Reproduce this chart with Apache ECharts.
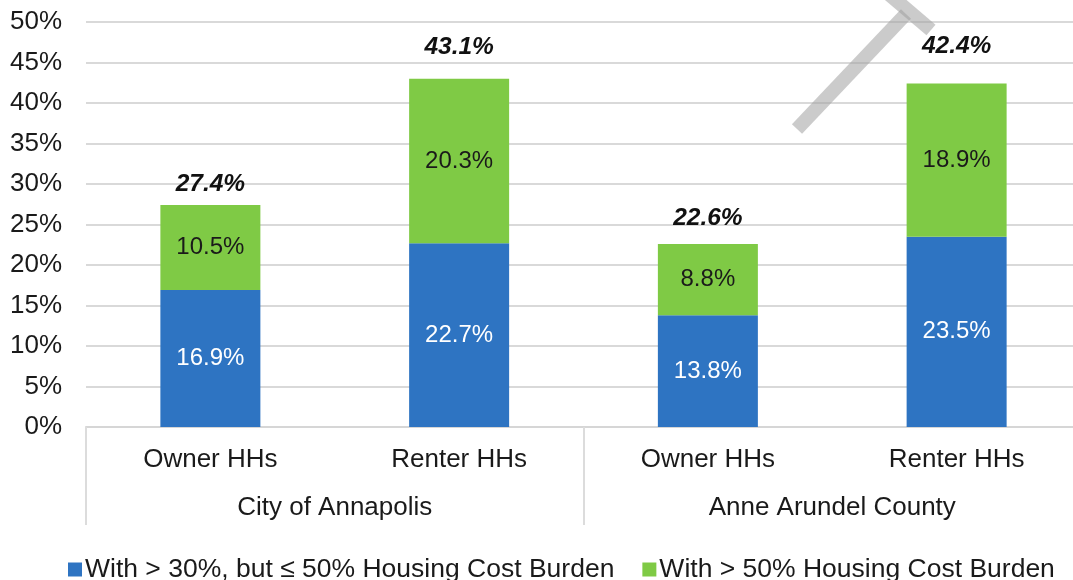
<!DOCTYPE html>
<html>
<head>
<meta charset="utf-8">
<script src="https://cdn.jsdelivr.net/npm/echarts@6/dist/echarts.min.js"></script>
<style>
  html, body { margin: 0; padding: 0; background: #ffffff; }
  #chart { width: 1073px; height: 580px; }
</style>
</head>
<body>
<div id="chart"></div>
<script>
// Housing cost burden by tenure
const categories = ['Owner HHs', 'Renter HHs', 'Owner HHs', 'Renter HHs'];
const groups = ['City of Annapolis', 'Anne Arundel County'];
const moderateBurden = [16.9, 22.7, 13.8, 23.5];   // > 30% but <= 50%
const severeBurden = [10.5, 20.3, 8.8, 18.9];      // > 50%
const totals = [27.4, 43.1, 22.6, 42.4];
const seriesNames = ['With > 30%, but \u2264 50% Housing Cost Burden', 'With > 50% Housing Cost Burden'];

const FONT = '"Liberation Sans", Arial, sans-serif';
const pct = p => Number(p.value).toFixed(1) + '%';

// gap between each total label and the top of its bar
const totalLabelGap = [8, 18, 13, 25];

const chart = echarts.init(document.getElementById('chart'), null, { renderer: 'canvas' });

chart.setOption({
  animation: false,
  textStyle: { fontFamily: FONT },
  grid: { left: 86, width: 995, top: 22, bottom: 153, outerBoundsMode: 'none', containLabel: false },
  legend: {
    data: seriesNames,
    left: 63,
    top: 551,
    icon: 'rect',
    itemWidth: 14,
    itemHeight: 14,
    itemGap: 28,
    textStyle: { fontSize: 26.5, color: '#1a1a1a', fontFamily: FONT, padding: [0, 0, 0, -2] }
  },
  xAxis: [
    {
      type: 'category',
      data: categories,
      axisLine: { lineStyle: { color: '#d6d6d6', width: 2 } },
      axisTick: { show: false },
      axisLabel: { fontSize: 26, color: '#1a1a1a', margin: 20, interval: 0 }
    },
    {
      type: 'category',
      data: groups,
      position: 'bottom',
      axisLine: { show: false },
      axisTick: { show: true, length: 98, lineStyle: { color: '#dcdcdc', width: 2 } },
      axisLabel: { fontSize: 26, color: '#1a1a1a', margin: 68, interval: 0 },
      splitLine: { show: false }
    }
  ],
  yAxis: {
    type: 'value',
    min: 0,
    max: 50,
    interval: 5,
    axisLine: { show: false },
    axisTick: { show: false },
    axisLabel: { formatter: '{value}%', fontSize: 26, color: '#1a1a1a', margin: 24 },
    splitLine: { lineStyle: { color: '#d9d9d9', width: 2 } }
  },
  series: [
    {
      name: seriesNames[0],
      type: 'bar',
      stack: 'burden',
      barWidth: 100,
      barGap: '-100%',
      data: moderateBurden,
      itemStyle: { color: '#2e74c2' },
      label: { show: true, position: 'inside', formatter: pct, fontSize: 24, color: '#ffffff' },
      z: 3
    },
    {
      name: seriesNames[1],
      type: 'bar',
      stack: 'burden',
      barWidth: 100,
      barGap: '-100%',
      data: severeBurden,
      itemStyle: { color: '#7fca45' },
      label: { show: true, position: 'inside', formatter: pct, fontSize: 24, color: '#1a1a1a' },
      z: 3
    },
    {
      name: 'Total',
      type: 'bar',
      barWidth: 100,
      barGap: '-100%',
      data: totals.map((v, i) => ({ value: v, label: { distance: totalLabelGap[i] } })),
      itemStyle: { color: 'rgba(0,0,0,0)' },
      label: {
        show: true, position: 'top', formatter: pct,
        fontSize: 24.5, fontWeight: 'bold', fontStyle: 'italic', color: '#111111'
      },
      z: 2,
      silent: true
    }
  ],
  graphic: [
    {
      type: 'polyline',
      shape: { points: [[797, 129], [906, 14]] },
      style: { stroke: 'rgba(160,160,160,0.55)', lineWidth: 14, fill: null },
      z: 10
    },
    {
      type: 'polyline',
      shape: { points: [[884, -10], [931, 30]] },
      style: { stroke: 'rgba(160,160,160,0.55)', lineWidth: 14, fill: null },
      z: 10
    }
  ]
});
</script>
</body>
</html>
